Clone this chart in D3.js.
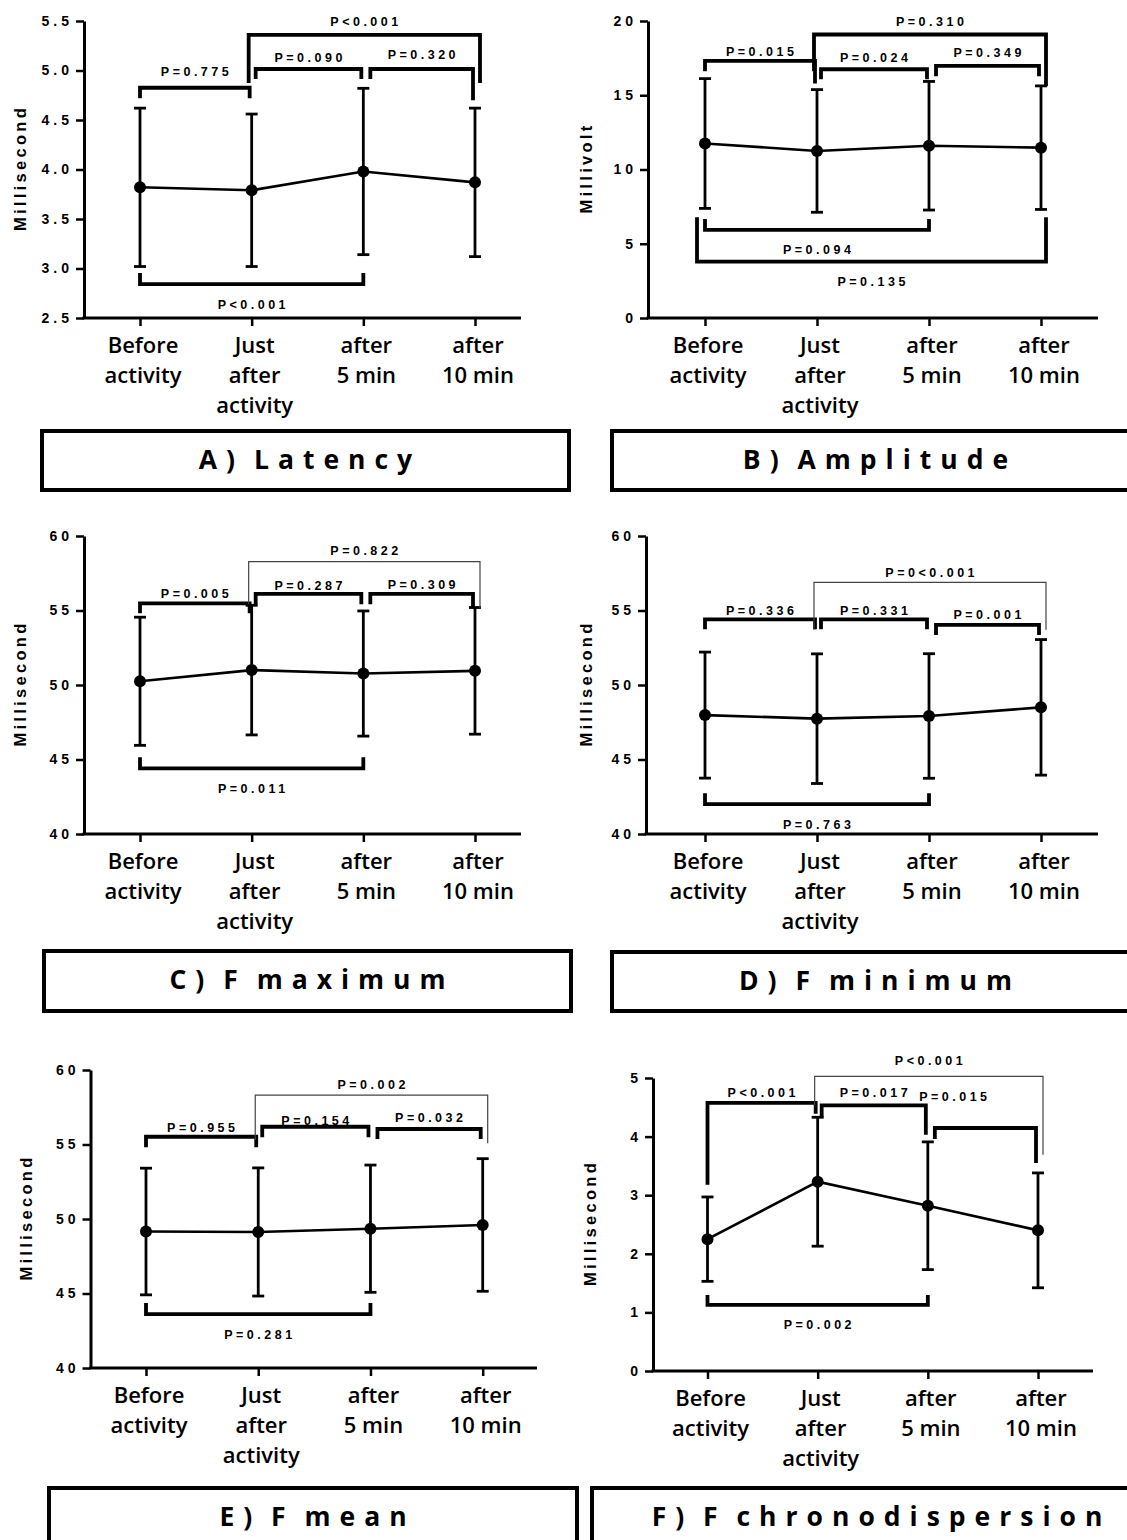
<!DOCTYPE html>
<html>
<head>
<meta charset="utf-8">
<script src="https://cdnjs.cloudflare.com/ajax/libs/d3/7.8.5/d3.min.js"></script>
<style>
  body { margin: 0; background: #fff; }
  svg { display: block; }
</style>
</head>
<body>
<div id="chart"></div>
<script>
// categories shared by all six panels
var categories = ["Before activity", "Just after activity", "after 5 min", "after 10 min"];
var categoryLines = [["Before", "activity"], ["Just", "after", "activity"], ["after", "5 min"], ["after", "10 min"]];

// A) Latency
var latencyMean = [3.82, 3.79, 3.98, 3.87];
var latencySD = [0.80, 0.77, 0.84, 0.75];
var latencyTicks = [2.5, 3.0, 3.5, 4.0, 4.5, 5.0, 5.5];
var latencyBrackets = [
  { a: 0, b: 1, y: 4.826, legL: 4.72, legR: 4.72, ly: 4.99, label: "P=0.775" },
  { a: 1, b: 2, y: 5.015, legL: 4.914, legR: 4.914, ly: 5.133, label: "P=0.090" },
  { a: 2, b: 3, y: 5.015, legL: 4.914, legR: 4.70, ly: 5.157, label: "P=0.320" },
  { a: 1, b: 3, y: 5.359, legL: 4.874, legR: 4.874, ly: 5.50, label: "P<0.001" },
  { a: 0, b: 2, y: 2.843, legL: 2.955, legR: 2.955, ly: 2.641, label: "P<0.001", below: true }
];

// B) Amplitude
var amplitudeMean = [11.75, 11.25, 11.6, 11.47];
var amplitudeSD = [4.37, 4.13, 4.33, 4.16];
var amplitudeTicks = [0, 5, 10, 15, 20];
var amplitudeBrackets = [
  { a: 0, b: 1, y: 17.31, legL: 16.62, legR: 15.79, ly: 17.92, label: "P=0.015" },
  { a: 1, b: 2, y: 16.75, legL: 16.08, legR: 16.08, ly: 17.56, label: "P=0.024" },
  { a: 2, b: 3, y: 16.98, legL: 16.28, legR: 16.28, ly: 17.90, label: "P=0.349" },
  { a: 1, b: 3, y: 19.09, legL: 16.62, legR: 15.61, ly: 20.0, label: "P=0.310" },
  { a: 0, b: 2, y: 5.93, legL: 6.67, legR: 6.67, ly: 4.59, label: "P=0.094", below: true },
  { a: 0, b: 3, y: 3.80, legL: 6.79, legR: 6.79, ly: 2.46, label: "P=0.135", below: true }
];

// C) F maximum
var fMaxMean = [50.25, 51.0, 50.77, 50.95];
var fMaxSD = [4.30, 4.35, 4.20, 4.25];
var fTicks = [40, 45, 50, 55, 60];
var fMaxBrackets = [
  { a: 0, b: 1, y: 55.48, legL: 54.81, legR: 54.81, ly: 56.11, label: "P=0.005" },
  { a: 1, b: 2, y: 56.11, legL: 55.42, legR: 55.42, ly: 56.66, label: "P=0.287" },
  { a: 2, b: 3, y: 56.11, legL: 55.42, legR: 55.15, ly: 56.76, label: "P=0.309" },
  { a: 1, b: 3, y: 58.28, legL: 55.44, legR: 55.15, ly: 59.01, label: "P=0.822", thin: true },
  { a: 0, b: 2, y: 44.41, legL: 45.15, legR: 45.15, ly: 43.07, label: "P=0.011", below: true }
];

// D) F minimum
var fMinMean = [47.98, 47.74, 47.92, 48.5];
var fMinSD = [4.23, 4.35, 4.18, 4.55];
var fMinBrackets = [
  { a: 0, b: 1, y: 54.41, legL: 53.74, legR: 53.74, ly: 55.03, label: "P=0.336" },
  { a: 1, b: 2, y: 54.41, legL: 53.74, legR: 53.74, ly: 55.03, label: "P=0.331" },
  { a: 2, b: 3, y: 54.03, legL: 53.36, legR: 53.36, ly: 54.70, label: "P=0.001" },
  { a: 1, b: 3, y: 56.89, legL: 53.70, legR: 53.70, ly: 57.54, label: "P=0<0.001", thin: true },
  { a: 0, b: 2, y: 42.01, legL: 42.73, legR: 42.73, ly: 40.67, label: "P=0.763", below: true }
];

// E) F mean
var fMeanMean = [49.16, 49.13, 49.35, 49.6];
var fMeanSD = [4.25, 4.30, 4.27, 4.45];
var fMeanBrackets = [
  { a: 0, b: 1, y: 55.52, legL: 54.81, legR: 54.81, ly: 56.13, label: "P=0.955" },
  { a: 1, b: 2, y: 56.19, legL: 55.48, legR: 55.48, ly: 56.64, label: "P=0.154" },
  { a: 2, b: 3, y: 56.04, legL: 55.37, legR: 55.37, ly: 56.80, label: "P=0.032" },
  { a: 1, b: 3, y: 58.32, legL: 55.30, legR: 55.08, ly: 59.03, label: "P=0.002", thin: true },
  { a: 0, b: 2, y: 43.62, legL: 44.36, legR: 44.36, ly: 42.28, label: "P=0.281", below: true }
];

// F) F chronodispersion
var chronoMean = [2.25, 3.23, 2.82, 2.40];
var chronoSD = [0.72, 1.10, 1.09, 0.98];
var chronoTicks = [0, 1, 2, 3, 4, 5];
var chronoBrackets = [
  { a: 0, b: 1, y: 4.574, legL: 3.178, legR: 4.391, ly: 4.745, label: "P<0.001" },
  { a: 1, b: 2, y: 4.533, legL: 4.345, legR: 4.032, ly: 4.755, label: "P=0.017" },
  { a: 2, b: 3, y: 4.147, legL: 3.959, legR: 3.549, ly: 4.676, lx: 2.23, label: "P=0.015" },
  { a: 1, b: 3, y: 5.028, legL: 4.545, legR: 3.69, ly: 5.30, label: "P<0.001", thin: true },
  { a: 0, b: 2, y: 1.128, legL: 1.298, legR: 1.298, ly: 0.786, label: "P=0.002", below: true }
];

// page layout of the six panels
var panels = [
  { title: "A) Latency", ylab: "Millisecond", mean: latencyMean, sd: latencySD, ticks: latencyTicks, fmt: d3.format(".1f"),
    brackets: latencyBrackets, axisX: 84, x0: 140, x1: 475, axisEnd: 521, yTop: 21, yBot: 318, box: [42, 431, 527, 59], ylabX: 20 },
  { title: "B) Amplitude", ylab: "Millivolt", mean: amplitudeMean, sd: amplitudeSD, ticks: amplitudeTicks, fmt: d3.format("d"),
    brackets: amplitudeBrackets, axisX: 648, x0: 705, x1: 1041, axisEnd: 1098, yTop: 21, yBot: 318, box: [612, 431, 527, 59], ylabX: 586 },
  { title: "C) F maximum", ylab: "Millisecond", mean: fMaxMean, sd: fMaxSD, ticks: fTicks, fmt: d3.format("d"),
    brackets: fMaxBrackets, axisX: 84, x0: 140, x1: 475, axisEnd: 521, yTop: 536, yBot: 834, box: [44, 951, 527, 60], ylabX: 20 },
  { title: "D) F minimum", ylab: "Millisecond", mean: fMinMean, sd: fMinSD, ticks: fTicks, fmt: d3.format("d"),
    brackets: fMinBrackets, axisX: 646, x0: 705, x1: 1041, axisEnd: 1098, yTop: 536, yBot: 834, box: [612, 952, 527, 59], ylabX: 586 },
  { title: "E) F mean", ylab: "Millisecond", mean: fMeanMean, sd: fMeanSD, ticks: fTicks, fmt: d3.format("d"),
    brackets: fMeanBrackets, axisX: 90.5, x0: 146, x1: 482.7, axisEnd: 537, yTop: 1070, yBot: 1368, box: [49, 1488, 528, 60], ylabX: 26 },
  { title: "F) F chronodispersion", ylab: "Millisecond", mean: chronoMean, sd: chronoSD, ticks: chronoTicks, fmt: d3.format("d"),
    brackets: chronoBrackets, axisX: 653, x0: 707.5, x1: 1038, axisEnd: 1093, yTop: 1078, yBot: 1371, box: [592, 1488, 570, 60], ylabX: 590 }
];

var NUM_FONT = "'Liberation Sans', Arial, Helvetica, sans-serif";
var TXT_FONT = "'Open Sans', 'Noto Sans', sans-serif";

var svg = d3.select("#chart").append("svg")
    .attr("width", 1127)
    .attr("height", 1540)
    .attr("xmlns", "http://www.w3.org/2000/svg");

var drawPanel = function(p) {
    var g = svg.append("g");

    var x = d3.scalePoint().domain(categories).range([p.x0, p.x1]);
    var xi = function(i) { return p.x0 + i * x.step(); };   // fractional category position
    var y = d3.scaleLinear().domain([p.ticks[0], p.ticks[p.ticks.length - 1]]).range([p.yBot, p.yTop]);

    // y axis
    var yAxis = g.append("g")
        .attr("transform", "translate(" + p.axisX + ",0)")
        .call(d3.axisLeft(y).tickValues(p.ticks).tickFormat(p.fmt).tickSize(8).tickSizeOuter(0).tickPadding(3));
    yAxis.select(".domain").attr("stroke-width", 3).attr("stroke", "#000");
    yAxis.selectAll(".tick line").attr("stroke-width", 2.5).attr("stroke", "#000");
    yAxis.selectAll(".tick text")
        .attr("font-family", NUM_FONT)
        .attr("font-weight", "bold")
        .attr("font-size", 14)
        .attr("fill", "#000")
        .style("letter-spacing", "4px");

    // x axis: ticks from d3, baseline drawn to the panel width
    var xAxis = g.append("g")
        .attr("transform", "translate(0," + p.yBot + ")")
        .call(d3.axisBottom(x).tickSize(8).tickFormat(""));
    xAxis.select(".domain").remove();
    xAxis.selectAll(".tick line").attr("stroke-width", 2.5).attr("stroke", "#000");
    g.append("line")
        .attr("x1", p.axisX - 1.5).attr("x2", p.axisEnd)
        .attr("y1", p.yBot).attr("y2", p.yBot)
        .attr("stroke", "#000").attr("stroke-width", 3);

    // multi-line category labels
    categories.forEach(function(c, i) {
        var t = g.append("text")
            .attr("font-family", TXT_FONT)
            .attr("font-weight", 600)
            .attr("font-size", 22)
            .attr("text-anchor", "middle")
            .attr("fill", "#000");
        categoryLines[i].forEach(function(line, k) {
            t.append("tspan")
                .attr("x", x(c) + 3)
                .attr("y", p.yBot + 35 + k * 30)
                .text(line);
        });
    });

    // y axis title
    g.append("text")
        .attr("transform", "translate(" + p.ylabX + "," + ((p.yTop + p.yBot) / 2) + ") rotate(-90)")
        .attr("text-anchor", "middle")
        .attr("dy", "0.35em")
        .attr("dx", 1.5)
        .attr("font-family", NUM_FONT)
        .attr("font-weight", "bold")
        .attr("font-size", 16.5)
        .style("letter-spacing", "3.3px")
        .text(p.ylab);

    // error bars
    var bars = g.append("g").selectAll("g")
        .data(p.mean.map(function(m, i) { return { c: categories[i], m: m, sd: p.sd[i] }; }))
        .enter().append("g");
    bars.append("line")
        .attr("x1", function(d) { return x(d.c); })
        .attr("x2", function(d) { return x(d.c); })
        .attr("y1", function(d) { return y(d.m - d.sd); })
        .attr("y2", function(d) { return y(d.m + d.sd); })
        .attr("stroke", "#000").attr("stroke-width", 2.8);
    [-1, 1].forEach(function(s) {
        bars.append("line")
            .attr("x1", function(d) { return x(d.c) - 6; })
            .attr("x2", function(d) { return x(d.c) + 6; })
            .attr("y1", function(d) { return y(d.m + s * d.sd); })
            .attr("y2", function(d) { return y(d.m + s * d.sd); })
            .attr("stroke", "#000").attr("stroke-width", 2.8);
    });

    // mean line and markers
    var line = d3.line()
        .x(function(d, i) { return x(categories[i]); })
        .y(function(d) { return y(d); });
    g.append("path")
        .datum(p.mean)
        .attr("d", line)
        .attr("fill", "none")
        .attr("stroke", "#000")
        .attr("stroke-width", 2.6);
    g.append("g").selectAll("circle")
        .data(p.mean)
        .enter().append("circle")
        .attr("cx", function(d, i) { return x(categories[i]); })
        .attr("cy", function(d) { return y(d); })
        .attr("r", 6)
        .attr("fill", "#000");

    // significance brackets
    p.brackets.forEach(function(b) {
        var outer = b.below ? (b.b - b.a === 3) : (b.b - b.a > 1);
        var xl, xr;
        if (b.below) {
            xl = xi(b.a) - (outer ? 8 : 0);
            xr = xi(b.b) + (outer ? 5 : 0);
        } else if (outer) {
            xl = xi(b.a) - 3;
            xr = xi(b.b) + 5;
        } else {
            xl = xi(b.a) + (b.a === 0 ? 0 : (b.a === 2 ? 7 : 4));
            xr = xi(b.b) - 2;
        }
        g.append("path")
            .attr("d", "M" + xl + "," + y(b.legL) + "V" + y(b.y) + "H" + xr + "V" + y(b.legR))
            .attr("fill", "none")
            .attr("stroke", b.thin ? "#444" : "#000")
            .attr("stroke-width", b.thin ? 1.2 : 3.8);
        var cx = b.lx !== undefined ? xi(b.lx) : (xl + xr) / 2;
        g.append("text")
            .attr("x", cx)
            .attr("y", y(b.ly))
            .attr("dy", "0.36em")
            .attr("dx", 1.7)
            .attr("text-anchor", "middle")
            .attr("font-family", NUM_FONT)
            .attr("font-weight", "bold")
            .attr("font-size", 12.5)
            .style("letter-spacing", "3.5px")
            .text(b.label);
    });

    // title box
    g.append("rect")
        .attr("x", p.box[0]).attr("y", p.box[1])
        .attr("width", p.box[2]).attr("height", p.box[3])
        .attr("fill", "#fff")
        .attr("stroke", "#000")
        .attr("stroke-width", 4);
    g.append("text")
        .attr("x", p.box[0] + p.box[2] / 2)
        .attr("y", p.box[1] + 38)
        .attr("dx", 4.5)
        .attr("text-anchor", "middle")
        .attr("font-family", TXT_FONT)
        .attr("font-weight", 700)
        .attr("font-size", 26.5)
        .style("letter-spacing", "9px")
        .style("word-spacing", "-6px")
        .text(p.title);
};

panels.forEach(drawPanel);
</script>
</body>
</html>
